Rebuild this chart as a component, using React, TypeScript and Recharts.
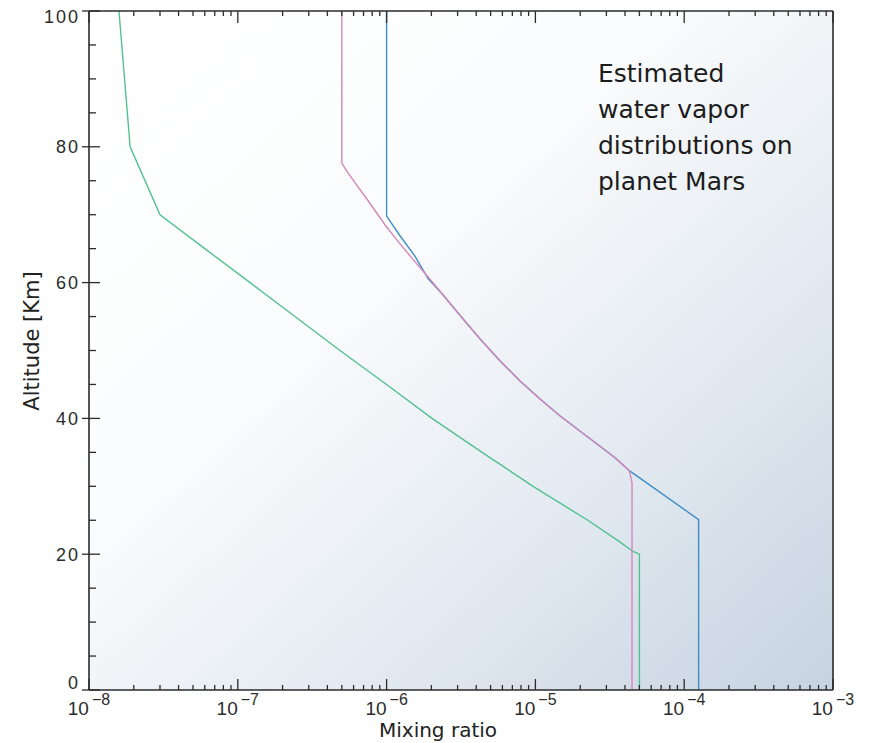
import { LineChart, Line, XAxis, YAxis, CartesianGrid } from 'recharts'

// altitude [km] and mixing ratio for each profile
const greenAlt = [100, 80, 70, 65, 60, 55, 50, 45, 40, 35, 30, 25, 22, 20.4, 20, 0]
const greenMix = [1.59e-8, 1.89e-8, 3.0e-8, 6.0e-8, 1.21e-7, 2.42e-7, 4.86e-7, 1.0e-6, 2.02e-6, 4.38e-6, 9.64e-6, 2.25e-5, 3.59e-5, 4.53e-5, 5.0e-5, 5.0e-5]

const pinkAlt = [100, 77.6, 76.6, 74.5, 72.5, 70.4, 68.3, 66.1, 63.6, 61.0, 58.2, 55.2, 51.7, 48.5, 45.5, 42.9, 40.4, 38.1, 35.9, 34.2, 32.3, 30.5, 0]
const pinkMix = [5e-7, 5e-7, 5.33e-7, 6.23e-7, 7.27e-7, 8.49e-7, 9.91e-7, 1.19e-6, 1.48e-6, 1.87e-6, 2.39e-6, 3.11e-6, 4.25e-6, 5.78e-6, 7.88e-6, 1.07e-5, 1.46e-5, 2.0e-5, 2.72e-5, 3.43e-5, 4.28e-5, 4.46e-5, 4.46e-5]

const blueAlt = [100, 69.8, 66.9, 63.9, 60.6, 58.2, 55.2, 51.7, 48.5, 45.5, 42.9, 40.4, 38.1, 35.9, 34.2, 32.3, 25.1, 0]
const blueMix = [1e-6, 1e-6, 1.23e-6, 1.55e-6, 1.9e-6, 2.39e-6, 3.11e-6, 4.25e-6, 5.78e-6, 7.88e-6, 1.07e-5, 1.46e-5, 2.0e-5, 2.72e-5, 3.43e-5, 4.28e-5, 1.25e-4, 1.25e-4]

// axis ticks
const decades = [1e-8, 1e-7, 1e-6, 1e-5, 1e-4, 1e-3]
const decadeExp = ['−8', '−7', '−6', '−5', '−4', '−3']
const minorSteps = [2, 3, 4, 5, 6, 7, 8, 9]
const altTicks = [0, 5, 10, 15, 20, 25, 30, 35, 40, 45, 50, 55, 60, 65, 70, 75, 80, 85, 90, 95, 100]
const altLabels = [0, 20, 40, 60, 80, 100]

const xTicks = decades.flatMap((d, i) =>
  i < decades.length - 1 ? [d, ...minorSteps.map((m) => m * d)] : [d]
)

const toPoints = (mix: number[], alt: number[]) => mix.map((x, i) => ({ x, alt: alt[i] }))

const INK = '#2b2b2b'
const TICK_FONT = '"Liberation Sans", Arial, sans-serif'
const TEXT_FONT = '"DejaVu Sans", Verdana, sans-serif'

const decadeIndex = (v: number) =>
  decades.findIndex((d) => Math.abs(Math.log10(d) - Math.log10(v)) < 1e-6)

function BottomTick({ x, y, payload }: any) {
  const i = decadeIndex(payload.value)
  const major = i >= 0
  return (
    <g>
      <line x1={x} x2={x} y1={y} y2={y - (major ? 11 : 5)} stroke={INK} strokeWidth={1.3} />
      {major && (
        <text x={x} y={y + 25} textAnchor="middle" fontSize={19} fill={INK} fontFamily={TICK_FONT}>
          10
          <tspan dy={-10} dx={3} fontSize={16}>
            {decadeExp[i]}
          </tspan>
        </text>
      )}
    </g>
  )
}

function TopTick({ x, y, payload }: any) {
  const major = decadeIndex(payload.value) >= 0
  return <line x1={x} x2={x} y1={y} y2={y + (major ? 12 : 5)} stroke={INK} strokeWidth={1.3} />
}

function LeftTick({ x, y, payload }: any) {
  const v = payload.value
  const major = altLabels.includes(v)
  const nudge = v === 0 ? -7 : v === 100 ? 6 : 0
  return (
    <g>
      <line x1={major ? x - 7 : x} x2={x + (major ? 11 : 7)} y1={y} y2={y} stroke={INK} strokeWidth={1.3} />
      {major && (
        <text
          x={x - 9}
          y={y + nudge}
          dy="0.36em"
          textAnchor="end"
          fontSize={18}
          letterSpacing={2}
          fill={INK}
          fontFamily={TICK_FONT}
        >
          {v}
        </text>
      )}
    </g>
  )
}

function RightTick({ x, y, payload }: any) {
  const major = altLabels.includes(payload.value)
  return <line x1={x} x2={x - (major ? 11 : 6)} y1={y} y2={y} stroke={INK} strokeWidth={1.3} />
}

export default function App() {
  return (
    <div style={{ position: 'relative', width: 861, height: 735 }}>
      <LineChart width={861} height={735} margin={{ top: 0, right: 0, bottom: 0, left: 0 }}>
        <defs>
          <linearGradient id="plotBg" x1="0" y1="0" x2="1" y2="1">
            <stop offset="0%" stopColor="#ffffff" />
            <stop offset="38%" stopColor="#fbfcfd" />
            <stop offset="68%" stopColor="#e3eaf1" />
            <stop offset="100%" stopColor="#c6d3e1" />
          </linearGradient>
        </defs>
        <CartesianGrid horizontal={false} vertical={false} fill="url(#plotBg)" />
        <XAxis
          xAxisId="bottom"
          dataKey="x"
          type="number"
          scale="log"
          domain={[1e-8, 1e-3]}
          allowDataOverflow
          ticks={xTicks}
          interval={0}
          height={53}
          tickSize={0}
          tickMargin={0}
          tickLine={false}
          axisLine={{ stroke: INK, strokeWidth: 1.6 }}
          tick={<BottomTick />}
        />
        <XAxis
          xAxisId="top"
          orientation="top"
          dataKey="x"
          type="number"
          scale="log"
          domain={[1e-8, 1e-3]}
          allowDataOverflow
          ticks={xTicks}
          interval={0}
          height={3}
          tickSize={0}
          tickMargin={0}
          tickLine={false}
          axisLine={{ stroke: INK, strokeWidth: 1.6 }}
          tick={<TopTick />}
        />
        <YAxis
          yAxisId="left"
          dataKey="alt"
          type="number"
          domain={[0, 100]}
          ticks={altTicks}
          interval={0}
          width={81}
          tickSize={0}
          tickMargin={0}
          tickLine={false}
          axisLine={{ stroke: INK, strokeWidth: 1.6 }}
          tick={<LeftTick />}
        />
        <YAxis
          yAxisId="right"
          orientation="right"
          type="number"
          domain={[0, 100]}
          ticks={altTicks}
          interval={0}
          width={36}
          tickSize={0}
          tickMargin={0}
          tickLine={false}
          axisLine={{ stroke: INK, strokeWidth: 1.6 }}
          tick={<RightTick />}
        />
        <Line
          xAxisId="bottom"
          yAxisId="left"
          data={toPoints(blueMix, blueAlt)}
          dataKey="alt"
          type="linear"
          stroke="#3f8fc6"
          strokeWidth={1.4}
          dot={false}
          isAnimationActive={false}
        />
        <Line
          xAxisId="bottom"
          yAxisId="left"
          data={toPoints(greenMix, greenAlt)}
          dataKey="alt"
          type="linear"
          stroke="#52c18f"
          strokeWidth={1.4}
          dot={false}
          isAnimationActive={false}
        />
        <Line
          xAxisId="bottom"
          yAxisId="left"
          data={toPoints(pinkMix, pinkAlt)}
          dataKey="alt"
          type="linear"
          stroke="#d586ba"
          strokeWidth={1.4}
          dot={false}
          isAnimationActive={false}
        />
      </LineChart>
      <div
        style={{
          position: 'absolute',
          left: 590,
          top: 48,
          fontFamily: TEXT_FONT,
          fontSize: 25,
          lineHeight: '36px',
          color: '#1c1c1c',
          whiteSpace: 'nowrap',
        }}
      >
        Estimated
        <br />
        water vapor
        <br />
        distributions on
        <br />
        planet Mars
      </div>
      <div
        style={{
          position: 'absolute',
          left: 430,
          top: 710,
          transform: 'translateX(-50%)',
          fontFamily: TEXT_FONT,
          fontSize: 20,
          color: '#222',
          whiteSpace: 'nowrap',
        }}
      >
        Mixing ratio
      </div>
      <div
        style={{
          position: 'absolute',
          left: 24,
          top: 333,
          transform: 'translate(-50%, -50%) rotate(-90deg)',
          fontFamily: TEXT_FONT,
          fontSize: 21,
          color: '#222',
          whiteSpace: 'nowrap',
        }}
      >
        Altitude [Km]
      </div>
    </div>
  )
}
